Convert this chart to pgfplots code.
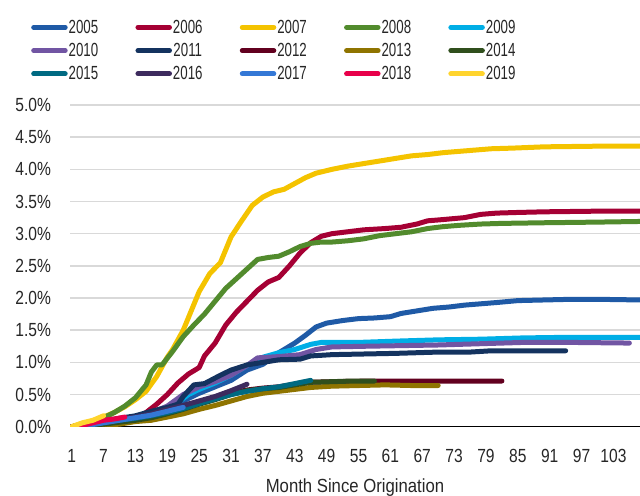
\documentclass[border=0pt]{standalone}
\usepackage{fontspec}
\setmainfont{Liberation Sans}[FakeStretch=0.7]
\newfontfamily\labelfont{Liberation Sans}[FakeStretch=0.88]
\newfontfamily\yfont{Liberation Sans}[FakeStretch=0.82]
\usepackage{pgfplots}
\pgfplotsset{compat=1.18}
\definecolor{c05}{HTML}{1F5AA6}
\definecolor{c06}{HTML}{A50034}
\definecolor{c07}{HTML}{F4C300}
\definecolor{c08}{HTML}{528B2D}
\definecolor{c09}{HTML}{00AEE6}
\definecolor{c10}{HTML}{7155A3}
\definecolor{c11}{HTML}{14335F}
\definecolor{c12}{HTML}{62001F}
\definecolor{c13}{HTML}{8F7400}
\definecolor{c14}{HTML}{304F1D}
\definecolor{c15}{HTML}{006A82}
\definecolor{c16}{HTML}{3D2B5E}
\definecolor{c17}{HTML}{3478D6}
\definecolor{c18}{HTML}{E8004A}
\definecolor{c19}{HTML}{FFD42E}
\definecolor{txt}{HTML}{262626}
\begin{document}
\begin{tikzpicture}[font=\fontsize{19bp}{22bp}\selectfont, text=txt]
\path[use as bounding box] (0,0) rectangle (640bp,-496bp);
\begin{axis}[
  scale only axis, width=570bp, height=321.7bp,
  at={(70bp,-426.7bp)}, anchor=south west,
  xmin=0.68, xmax=108, ymin=0, ymax=5,
  axis x line*=bottom, axis y line*=left,
  y axis line style={draw=none},
  x axis line style={draw=black, line width=1bp, -},
  ymajorgrids, grid style={color=black!15, line width=1.5bp},
  major tick length=0, tick style={draw=none},
  xtick={1,7,13,19,25,31,37,43,49,55,61,67,73,79,85,91,97,103},
  ytick={0,0.5,1,1.5,2,2.5,3,3.5,4,4.5,5},
  /pgf/number format/assume math mode=true,
  yticklabel={\yfont\pgfmathprintnumber[fixed,fixed zerofill,precision=1,assume math mode=true]{\tick}\%},
  xticklabel={\yfont\pgfmathprintnumber[assume math mode=true]{\tick}},
  yticklabel style={xshift=-15.5bp},
  xticklabel style={anchor=base, yshift=-35.3bp},
  xlabel={\labelfont Month Since Origination},
  xlabel style={at={(axis description cs:0.5,-0.203)}, anchor=base},
  legend columns=5,
  legend style={draw=none, fill=none, at={(axis description cs:-0.0684,1.268)}, anchor=north west,
    inner sep=0pt, row sep=6.5bp, /tikz/every even column/.append style={column sep=36.2bp},
    nodes={inner sep=1bp}},
  legend image code/.code={\draw[#1, line width=5bp, line cap=round] (0bp,0bp) -- (31.5bp,0bp);},
  every axis plot/.append style={line width=5bp, line cap=round, line join=round},
]
\addplot[c05] coordinates {(1,0)(4,0.02)(7,0.06)(10,0.1)(13,0.14)(16,0.2)(19,0.28)(22,0.4)(25,0.52)(28,0.62)(31,0.72)(34,0.88)(37,0.97)(40,1.15)(43,1.3)(45,1.42)(47,1.55)(49,1.61)(52,1.65)(55,1.68)(58,1.69)(61,1.71)(63,1.76)(66,1.8)(69,1.84)(72,1.86)(75,1.89)(78,1.91)(81,1.93)(85,1.96)(90,1.97)(95,1.98)(100,1.98)(108,1.97)};
\addlegendentry{2005}
\addplot[c06] coordinates {(1,0)(4,0.01)(7,0.02)(10,0.05)(13,0.13)(15,0.22)(17,0.35)(19,0.5)(21,0.68)(23,0.82)(25,0.92)(26,1.1)(28,1.3)(30,1.58)(32,1.78)(34,1.95)(36,2.12)(38,2.25)(40,2.32)(42,2.5)(44,2.7)(46,2.86)(48,2.96)(50,3.0)(53,3.03)(56,3.06)(60,3.08)(63,3.1)(66,3.15)(68,3.2)(71,3.22)(75,3.25)(78,3.3)(81,3.32)(85,3.33)(90,3.34)(100,3.35)(108,3.35)};
\addlegendentry{2006}
\addplot[c07] coordinates {(1,0)(3,0.05)(5,0.09)(7,0.15)(9,0.22)(11,0.31)(13,0.42)(15,0.55)(17,0.78)(19,1.08)(20,1.2)(22,1.5)(24,1.9)(25,2.1)(27,2.38)(29,2.55)(31,2.95)(33,3.2)(35,3.44)(37,3.57)(39,3.65)(41,3.69)(43,3.78)(45,3.87)(47,3.94)(50,4.0)(53,4.05)(56,4.09)(59,4.13)(62,4.17)(65,4.21)(68,4.23)(71,4.26)(74,4.28)(77,4.3)(80,4.32)(84,4.33)(90,4.35)(100,4.36)(108,4.36)};
\addlegendentry{2007}
\addplot[c08] coordinates {(1,0)(3,0.02)(5,0.06)(7,0.14)(9,0.22)(11,0.32)(13,0.45)(15,0.65)(16,0.85)(17,0.96)(18,0.96)(20,1.17)(22,1.4)(24,1.58)(26,1.75)(28,1.95)(30,2.15)(32,2.3)(34,2.45)(36,2.6)(38,2.63)(40,2.65)(42,2.72)(44,2.8)(46,2.85)(48,2.87)(50,2.87)(53,2.89)(56,2.92)(59,2.97)(62,3.0)(65,3.03)(68,3.08)(71,3.11)(74,3.13)(78,3.15)(82,3.16)(90,3.17)(100,3.18)(108,3.19)};
\addlegendentry{2008}
\addplot[c09] coordinates {(1,0)(4,0.02)(7,0.05)(10,0.1)(13,0.15)(16,0.22)(19,0.3)(21,0.38)(23,0.5)(25,0.58)(28,0.68)(31,0.8)(34,0.95)(37,1.08)(40,1.15)(43,1.2)(46,1.28)(48,1.31)(55,1.31)(62,1.33)(70,1.35)(78,1.36)(86,1.38)(95,1.39)(108,1.39)};
\addlegendentry{2009}
\addplot[c10] coordinates {(1,0)(4,0.02)(7,0.06)(10,0.1)(13,0.15)(16,0.22)(19,0.32)(22,0.5)(25,0.62)(28,0.7)(31,0.8)(34,0.95)(36,1.07)(40,1.09)(44,1.12)(47,1.2)(50,1.24)(56,1.25)(63,1.26)(70,1.27)(78,1.29)(86,1.31)(95,1.31)(106,1.3)};
\addlegendentry{2010}
\addplot[c11] coordinates {(1,0)(4,0.04)(7,0.09)(10,0.13)(13,0.17)(16,0.24)(19,0.3)(21,0.35)(22,0.47)(24,0.65)(26,0.67)(29,0.8)(31,0.88)(34,0.96)(37,1.0)(40,1.04)(44,1.05)(46,1.1)(50,1.12)(56,1.13)(62,1.14)(70,1.16)(76,1.16)(80,1.18)(94,1.18)};
\addlegendentry{2011}
\addplot[c12] coordinates {(1,0)(4,0.01)(7,0.03)(10,0.06)(13,0.1)(16,0.15)(19,0.22)(22,0.3)(25,0.38)(28,0.46)(31,0.52)(34,0.57)(37,0.6)(40,0.62)(43,0.66)(46,0.69)(50,0.7)(58,0.71)(70,0.71)(82,0.71)};
\addlegendentry{2012}
\addplot[c13] coordinates {(1,0)(4,0)(7,0.02)(10,0.04)(13,0.08)(16,0.1)(19,0.15)(22,0.2)(25,0.27)(28,0.33)(31,0.4)(34,0.47)(37,0.52)(40,0.55)(43,0.58)(46,0.61)(50,0.63)(55,0.64)(60,0.65)(65,0.64)(70,0.64)};
\addlegendentry{2013}
\addplot[c14] coordinates {(1,0)(4,0.02)(7,0.04)(10,0.07)(13,0.1)(16,0.14)(19,0.2)(22,0.27)(25,0.35)(28,0.42)(31,0.5)(34,0.56)(37,0.59)(40,0.61)(43,0.65)(46,0.69)(50,0.7)(54,0.71)(58,0.71)};
\addlegendentry{2014}
\addplot[c15] coordinates {(1,0)(4,0.03)(7,0.07)(10,0.1)(13,0.13)(16,0.17)(19,0.22)(22,0.28)(25,0.36)(28,0.43)(31,0.5)(34,0.55)(37,0.59)(40,0.62)(43,0.67)(46,0.72)};
\addlegendentry{2015}
\addplot[c16] coordinates {(1,0)(4,0.03)(7,0.08)(10,0.12)(13,0.15)(16,0.2)(19,0.27)(22,0.33)(25,0.4)(28,0.47)(31,0.56)(34,0.66)};
\addlegendentry{2016}
\addplot[c17] coordinates {(1,0)(4,0.02)(7,0.06)(10,0.1)(13,0.14)(16,0.18)(19,0.24)(22,0.3)};
\addlegendentry{2017}
\addplot[c18] coordinates {(1,0)(3,0.02)(5,0.06)(7,0.1)(9,0.12)(11,0.15)};
\addlegendentry{2018}
\addplot[c19] coordinates {(1,0)(3,0.06)(5,0.1)(7,0.17)};
\addlegendentry{2019}
\end{axis}
\end{tikzpicture}
\end{document}
